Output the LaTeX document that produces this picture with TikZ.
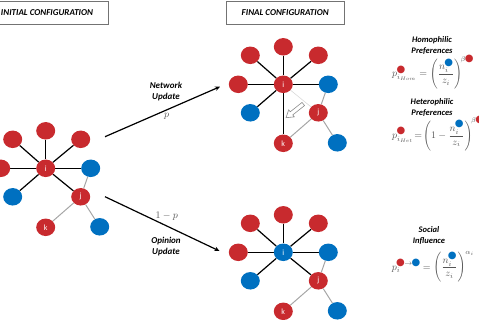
\documentclass[tikz,border=0pt]{standalone}
\usepackage{fontspec}
\usepackage{amsmath}
\usetikzlibrary{backgrounds,arrows.meta,shapes.geometric}
\newfontfamily\cali{Carlito}
\newfontfamily\dejavu{DejaVu Sans}
\definecolor{nred}{RGB}{200,42,46}
\definecolor{nblue}{RGB}{0,112,192}
\definecolor{eqgray}{RGB}{85,85,85}
\newcommand\rdot{\text{\fontsize{10}{10}\selectfont\kern-0.7pt\dejavu\color{nred}●\kern-0.7pt}}
\newcommand\bdot{\text{\fontsize{10}{10}\selectfont\kern-0.7pt\dejavu\color{nblue}●\kern-0.7pt}}
\newcommand\netw[4]{%
\begin{scope}[shift={(#2,#3)}]
\node[#4] (#1i) at (0,0) {i};
\node[rn] (#1t) at (0,-37.5) {};
\node[rn] (#1tl) at (-33,-29) {};
\node[rn] (#1tr) at (35,-29) {};
\node[rn] (#1l) at (-45,0) {};
\node[bn] (#1r) at (45,0) {};
\node[bn] (#1bl) at (-33,28.5) {};
\node[rn] (#1j) at (35,28.5) {j};
\node[rn] (#1k) at (0,59) {k};
\node[bn] (#1br) at (54,58.5) {};
\end{scope}}
\begin{document}
\begin{tikzpicture}[x=1pt,y=-1pt,
  nd/.style={ellipse, minimum width=19pt, minimum height=17.5pt, inner sep=0pt, text=white, font=\cali\fontsize{8}{8}\selectfont},
  rn/.style={nd, fill=nred},
  bn/.style={nd, fill=nblue},
  blk/.style={line width=1.2pt, black},
  gry/.style={line width=1pt, black!35},
  faint/.style={line width=0.6pt, black!15},
  arr/.style={line width=1.2pt, -{Stealth[length=5pt,width=4.5pt]}},
  lab/.style={font=\cali\bfseries\itshape\fontsize{9}{11.5}\selectfont, align=center, inner sep=0pt},
  rlab/.style={font=\cali\bfseries\itshape\fontsize{8.5}{11}\selectfont, align=center, inner sep=0pt},
  hdr/.style={draw=black!55, line width=0.8pt, font=\cali\bfseries\itshape\fontsize{9}{11}\selectfont, minimum height=23pt, inner sep=0pt},
  eq/.style={text=eqgray, font=\fontsize{10}{12}\selectfont, inner sep=0pt},
  holl/.style={draw=black!45, fill=white, line width=0.6pt, line join=miter}]
\useasboundingbox (0,0) rectangle (479,319);

% headers
\node[hdr, minimum width=122pt] (hinit) at (47,12.9) {INITIAL CONFIGURATION};
\node[hdr, minimum width=118pt] (hfin) at (285.2,12.5) {FINAL CONFIGURATION};

% networks
\netw{a}{45.7}{168.3}{rn}
\netw{b}{283.3}{84.3}{rn}
\netw{c}{283.3}{252.3}{bn}

\begin{pgfonlayer}{background}
\foreach \n in {t,tl,tr,l,r,bl,j} \draw[blk] (ai) -- (a\n);
\draw[gry] (aj) -- (ar) (aj) -- (ak) (aj) -- (abr);
\foreach \n in {t,tl,tr,l,r,bl,k} \draw[blk] (bi) -- (b\n);
\draw[faint] (bi) -- (bj);
\draw[gry] (bj) -- (br) (bj) -- (bk) (bj) -- (bbr);
\foreach \n in {t,tl,tr,l,r,bl,j} \draw[blk] (ci) -- (c\n);
\draw[gry] (cj) -- (cr) (cj) -- (ck) (cj) -- (cbr);
\end{pgfonlayer}

% hollow arrow
\draw[holl] (302.06,102.43) -- (290.26,111.78) -- (288.71,109.82) -- (286,117.7)
  -- (294.29,116.88) -- (292.74,114.92) -- (304.54,105.57) -- cycle;

% main arrows
\coordinate (u1) at (105,136.7);
\coordinate (u2) at (220,86.7);
\coordinate (d1) at (105,196.7);
\coordinate (d2) at (219.5,251);
\draw[arr] (u1) -- (u2);
\draw[arr] (d1) -- (d2);
\node[lab] (nu) at (166,91.3) {Network\\Update};
\node[eq] (pu) at (166.7,116) {$p$};
\node[eq] (pd) at (166.7,216.7) {$1-p$};
\node[lab] (ou) at (166,246.3) {Opinion\\Update};

% right panel
\node[rlab] (thom) at (432,45.7) {Homophilic\\Preferences};
\node[eq, anchor=base west] (fhom) at (392,76.7)
  {$\displaystyle p^{\rdot}_{i_{Hom}} = \left(\frac{n_i^{\bdot}}{z_i}\right)^{\!\beta\rdot}$};
\node[rlab] (thet) at (432,107.5) {Heterophilic\\Preferences};
\node[eq, anchor=base west] (fhet) at (392,138.3)
  {$\displaystyle p^{\rdot}_{i_{Het}} \mkern-3mu = \mkern-3mu \left(1-\frac{n_i^{\bdot}}{z_i}\right)^{\!\beta\rdot}$};
\node[rlab] (tsoc) at (429,235.5) {Social\\Influence};
\node[eq, anchor=base west] (fsoc) at (391.7,270)
  {$\displaystyle p_i^{\rdot\to\bdot} = \left(\frac{n_i^{\bdot}}{z_i}\right)^{\alpha_i}$};
\end{tikzpicture}
\end{document}
